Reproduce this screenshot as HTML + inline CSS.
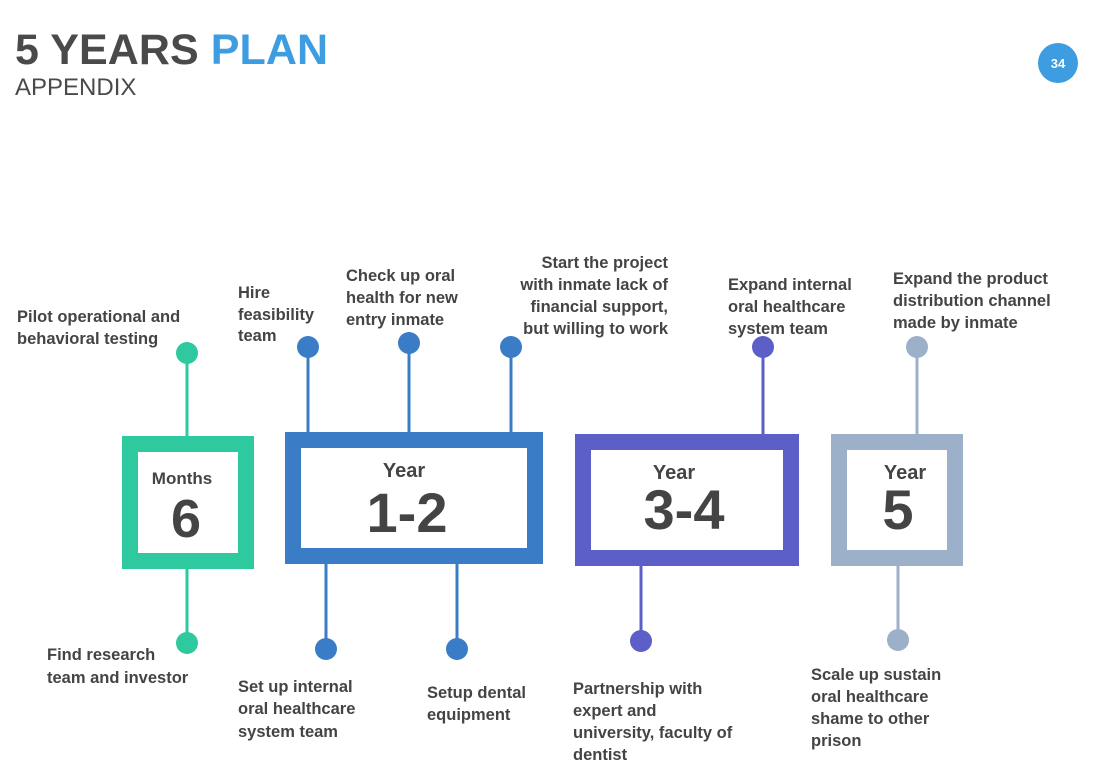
<!DOCTYPE html>
<html><head><meta charset="utf-8"><style>
html,body{margin:0;padding:0;background:#fff;}
svg{display:block;}
.t{font-family:"Liberation Sans",sans-serif;font-weight:bold;font-size:16.5px;fill:#444;}
.h{font-family:"Liberation Sans",sans-serif;font-weight:bold;fill:#444;}
</style></head><body>
<svg width="1095" height="783" viewBox="0 0 1095 783" xmlns="http://www.w3.org/2000/svg">
<text x="15" y="64" font-family="Liberation Sans,sans-serif" font-weight="bold" font-size="43" fill="#4a4a4a" textLength="313">5 YEARS <tspan fill="#3d9de0">PLAN</tspan></text>
<text x="15" y="95" font-family="Liberation Sans,sans-serif" font-size="24" fill="#4a4a4a">APPENDIX</text>
<circle cx="1058" cy="63" r="20" fill="#3d9de0"/>
<text x="1058" y="68" text-anchor="middle" font-family="Liberation Sans,sans-serif" font-weight="bold" font-size="13" fill="#fff">34</text>

<g stroke-width="3">
<line x1="187" y1="353" x2="187" y2="440" stroke="#2ec99e"/>
<line x1="187" y1="565" x2="187" y2="643" stroke="#2ec99e"/>
<line x1="308" y1="347" x2="308" y2="436" stroke="#3a7cc6"/>
<line x1="409" y1="343" x2="409" y2="436" stroke="#3a7cc6"/>
<line x1="511" y1="347" x2="511" y2="436" stroke="#3a7cc6"/>
<line x1="326" y1="560" x2="326" y2="649" stroke="#3a7cc6"/>
<line x1="457" y1="560" x2="457" y2="649" stroke="#3a7cc6"/>
<line x1="763" y1="347" x2="763" y2="438" stroke="#5b5fc7"/>
<line x1="641" y1="562" x2="641" y2="641" stroke="#5b5fc7"/>
<line x1="917" y1="347" x2="917" y2="438" stroke="#9db0c9"/>
<line x1="898" y1="562" x2="898" y2="640" stroke="#9db0c9"/>
</g>
<circle cx="187" cy="353" r="11" fill="#2ec99e"/>
<circle cx="187" cy="643" r="11" fill="#2ec99e"/>
<circle cx="308" cy="347" r="11" fill="#3a7cc6"/>
<circle cx="409" cy="343" r="11" fill="#3a7cc6"/>
<circle cx="511" cy="347" r="11" fill="#3a7cc6"/>
<circle cx="326" cy="649" r="11" fill="#3a7cc6"/>
<circle cx="457" cy="649" r="11" fill="#3a7cc6"/>
<circle cx="763" cy="347" r="11" fill="#5b5fc7"/>
<circle cx="641" cy="641" r="11" fill="#5b5fc7"/>
<circle cx="917" cy="347" r="11" fill="#9db0c9"/>
<circle cx="898" cy="640" r="11" fill="#9db0c9"/>

<rect x="130" y="444" width="116" height="117" fill="#fff" stroke="#2ec99e" stroke-width="16"/>
<rect x="293" y="440" width="242" height="116" fill="#fff" stroke="#3a7cc6" stroke-width="16"/>
<rect x="583" y="442" width="208" height="116" fill="#fff" stroke="#5b5fc7" stroke-width="16"/>
<rect x="839" y="442" width="116" height="116" fill="#fff" stroke="#9db0c9" stroke-width="16"/>

<text x="182" y="484" text-anchor="middle" class="h" font-size="17">Months</text>
<text x="186" y="537" text-anchor="middle" class="h" font-size="54">6</text>
<text x="404" y="477" text-anchor="middle" class="h" font-size="20">Year</text>
<text x="407" y="532" text-anchor="middle" class="h" font-size="56">1-2</text>
<text x="674" y="479" text-anchor="middle" class="h" font-size="20">Year</text>
<text x="684" y="529" text-anchor="middle" class="h" font-size="56">3-4</text>
<text x="905" y="479" text-anchor="middle" class="h" font-size="20">Year</text>
<text x="898" y="529" text-anchor="middle" class="h" font-size="56">5</text>

<text class="t" x="17" y="322">Pilot operational and</text>
<text class="t" x="17" y="344">behavioral testing</text>
<text class="t" x="238" y="298">Hire</text>
<text class="t" x="238" y="320">feasibility</text>
<text class="t" x="238" y="341">team</text>
<text class="t" x="346" y="281">Check up oral</text>
<text class="t" x="346" y="303">health for new</text>
<text class="t" x="346" y="325">entry inmate</text>
<g text-anchor="end">
<text class="t" x="668" y="268">Start the project</text>
<text class="t" x="668" y="290">with inmate lack of</text>
<text class="t" x="668" y="312">financial support,</text>
<text class="t" x="668" y="334">but willing to work</text>
</g>
<text class="t" x="728" y="290">Expand internal</text>
<text class="t" x="728" y="312">oral healthcare</text>
<text class="t" x="728" y="334">system team</text>
<text class="t" x="893" y="284">Expand the product</text>
<text class="t" x="893" y="306">distribution channel</text>
<text class="t" x="893" y="328">made by inmate</text>

<text class="t" x="47" y="660">Find research</text>
<text class="t" x="47" y="683">team and investor</text>
<text class="t" x="238" y="692">Set up internal</text>
<text class="t" x="238" y="714">oral healthcare</text>
<text class="t" x="238" y="737">system team</text>
<text class="t" x="427" y="698">Setup dental</text>
<text class="t" x="427" y="720">equipment</text>
<text class="t" x="573" y="694">Partnership with</text>
<text class="t" x="573" y="716">expert and</text>
<text class="t" x="573" y="738">university, faculty of</text>
<text class="t" x="573" y="760">dentist</text>
<text class="t" x="811" y="680">Scale up sustain</text>
<text class="t" x="811" y="702">oral healthcare</text>
<text class="t" x="811" y="724">shame to other</text>
<text class="t" x="811" y="746">prison</text>
</svg>
</body></html>
